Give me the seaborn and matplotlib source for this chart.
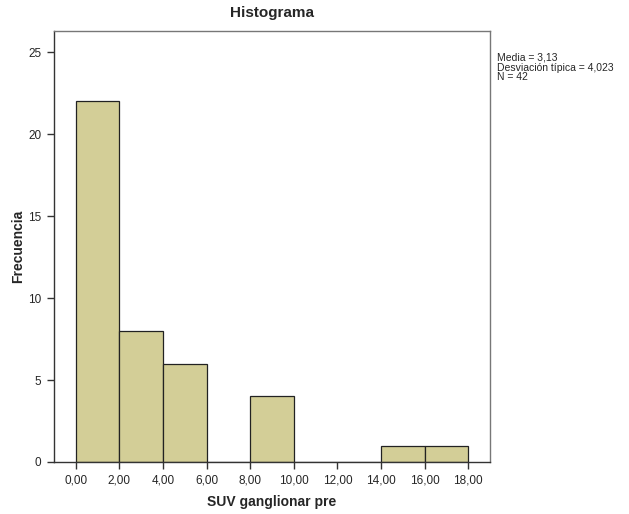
import matplotlib
matplotlib.use("Agg")
import matplotlib.pyplot as plt
import seaborn as sns
import numpy as np

bin_edges = [0, 2, 4, 6, 8, 10, 12, 14, 16, 18]
counts = [22, 8, 6, 0, 4, 0, 0, 1, 1]
x_ticks = [0, 2, 4, 6, 8, 10, 12, 14, 16, 18]
x_tick_labels = ["0,00", "2,00", "4,00", "6,00", "8,00", "10,00", "12,00", "14,00", "16,00", "18,00"]
y_ticks = [0, 5, 10, 15, 20, 25]
stats_text = "Media = 3,13\nDesviación típica = 4,023\nN = 42"

sns.set_style("white")
plt.rcParams['font.family'] = ['Liberation Sans', 'DejaVu Sans']

fig = plt.figure(figsize=(6.29, 5.14), dpi=100)
ax = fig.add_axes([54/629, 1-462/514, (490-54)/629, (462-31)/514])

centers = [(a + b) / 2 for a, b in zip(bin_edges[:-1], bin_edges[1:])]
sns.histplot(x=centers, weights=counts, bins=bin_edges, ax=ax,
             color="#D3CE97", alpha=1, edgecolor="#222222", linewidth=0.9)

ax.set_xlim(-1, 19)
ax.set_ylim(0, 26.3)
ax.set_xticks(x_ticks)
ax.set_xticklabels(x_tick_labels)
ax.set_yticks(y_ticks)
ax.tick_params(axis='both', direction='out', length=5, width=1, color="#333333",
               labelsize=8.5, pad=4, bottom=True, left=True)
for s in ax.spines.values():
    s.set_color("#777777")
    s.set_linewidth(1)
ax.spines['bottom'].set_color("#333333")
ax.spines['left'].set_color("#333333")

ax.set_title("Histograma", fontsize=11, fontweight='bold', pad=10)
ax.set_xlabel("SUV ganglionar pre", fontsize=10, fontweight='bold', labelpad=6)
ax.set_ylabel("Frecuencia", fontsize=10, fontweight='bold', labelpad=2)

fig.text(497/629, 1-53/514, stats_text, fontsize=7.5, va='top', ha='left', linespacing=0.95)

fig.savefig("out.png", dpi=100)
